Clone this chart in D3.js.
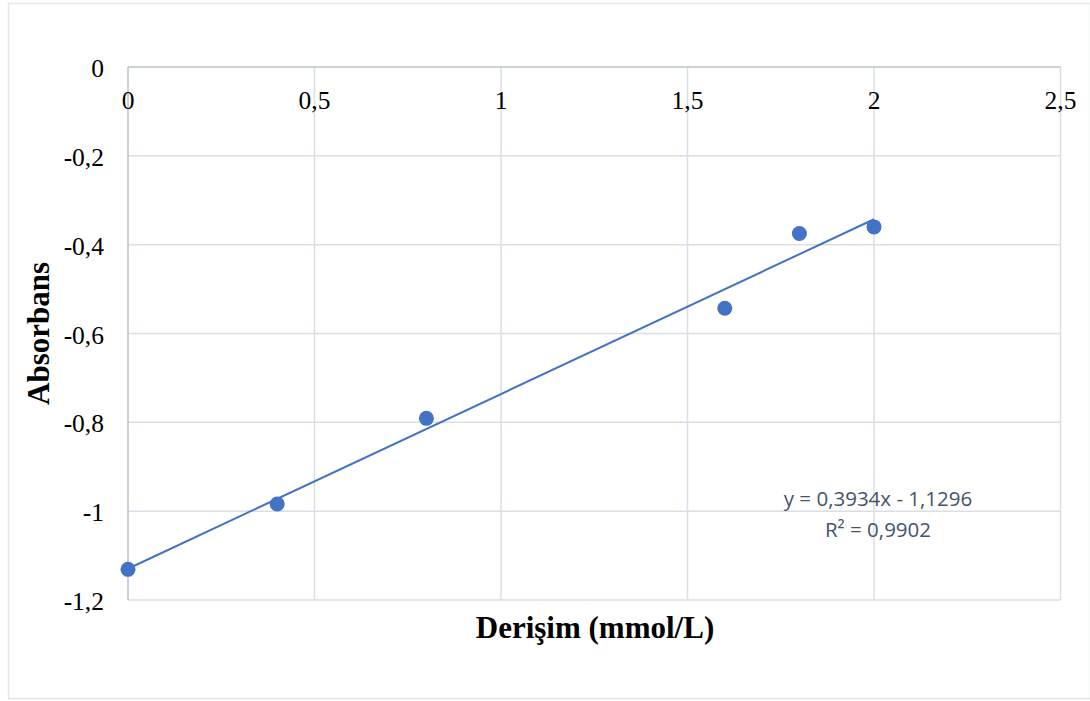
<!DOCTYPE html>
<html>
<head>
<meta charset="utf-8">
<script src="https://cdn.jsdelivr.net/npm/d3@7"></script>
<style>
  body { margin: 0; background: #fff; }
  svg { display: block; }
</style>
</head>
<body>
<svg id="chart" width="1090" height="701"></svg>
<script>
const width = 1090
const height = 701
const margin = { left: 128, right: 29.5, top: 67, bottom: 101 }

// data
const conc = [0, 0.4, 0.8, 1.6, 1.8, 2.0]
const absorb = [-1.131, -0.984, -0.791, -0.543, -0.375, -0.360]
const x_ticks = [0, 0.5, 1, 1.5, 2, 2.5]
const y_ticks = [0, -0.2, -0.4, -0.6, -0.8, -1, -1.2]
const slope = 0.3934
const intercept = -1.1296
const eq_lines = ["y = 0,3934x - 1,1296", "R² = 0,9902"]

const blue = "#4472c4"
const grid = "#d9dee7"
const serif = "Liberation Serif, Times New Roman, serif"
const fmt = d => String(d).replace(".", ",")

var svg = d3.select("#chart")

// outer chart border
svg.append("rect")
    .attr("x", 8.5).attr("y", 3.5)
    .attr("width", width - 8).attr("height", height - 6)
    .attr("fill", "none")
    .attr("stroke", "#e3e6ea")
    .attr("stroke-width", 1.5)

var xScale = d3.scaleLinear().domain([0, 2.5]).range([margin.left, width - margin.right])
var yScale = d3.scaleLinear().domain([-1.2, 0]).range([height - margin.bottom, margin.top])

// gridlines
svg.append("g")
    .selectAll("line")
    .data(x_ticks.slice(1))
    .join("line")
        .attr("x1", d => xScale(d)).attr("x2", d => xScale(d))
        .attr("y1", yScale(0)).attr("y2", yScale(-1.2))
        .attr("stroke", grid).attr("stroke-width", 1.5)

svg.append("g")
    .selectAll("line")
    .data(y_ticks.slice(1))
    .join("line")
        .attr("x1", xScale(0)).attr("x2", xScale(2.5))
        .attr("y1", d => yScale(d)).attr("y2", d => yScale(d))
        .attr("stroke", grid).attr("stroke-width", 1.5)

// axis lines (darker)
svg.append("line")
    .attr("x1", xScale(0)).attr("x2", xScale(2.5))
    .attr("y1", yScale(0)).attr("y2", yScale(0))
    .attr("stroke", "#b9c3d6").attr("stroke-width", 1.5)
svg.append("line")
    .attr("x1", xScale(0)).attr("x2", xScale(0))
    .attr("y1", yScale(0)).attr("y2", yScale(-1.2))
    .attr("stroke", "#b9c3d6").attr("stroke-width", 1.5)

// tick labels
svg.append("g")
    .selectAll("text")
    .data(x_ticks)
    .join("text")
        .attr("x", d => xScale(d))
        .attr("y", yScale(0) + 42)
        .attr("text-anchor", "middle")
        .attr("font-family", serif)
        .attr("font-size", 25.5)
        .attr("fill", "#000")
        .text(fmt)

svg.append("g")
    .selectAll("text")
    .data(y_ticks)
    .join("text")
        .attr("x", 104)
        .attr("y", d => yScale(d) + 10)
        .attr("text-anchor", "end")
        .attr("font-family", serif)
        .attr("font-size", 25.5)
        .attr("fill", "#000")
        .text(fmt)

// axis titles
svg.append("text")
    .attr("x", 595)
    .attr("y", 638)
    .attr("text-anchor", "middle")
    .attr("font-family", serif)
    .attr("font-weight", "bold")
    .attr("font-size", 31)
    .text("Derişim (mmol/L)")

svg.append("text")
    .attr("transform", "translate(49," + yScale(-0.6) + ") rotate(-90)")
    .attr("text-anchor", "middle")
    .attr("font-family", serif)
    .attr("font-weight", "bold")
    .attr("font-size", 31)
    .text("Absorbans")

// trendline
svg.append("line")
    .attr("x1", xScale(0)).attr("y1", yScale(intercept))
    .attr("x2", xScale(2)).attr("y2", yScale(slope * 2 + intercept))
    .attr("stroke", blue).attr("stroke-width", 2)

// points
svg.append("g")
    .selectAll("circle")
    .data(conc.map((c, i) => [c, absorb[i]]))
    .join("circle")
        .attr("cx", d => xScale(d[0]))
        .attr("cy", d => yScale(d[1]))
        .attr("r", 7.5)
        .attr("fill", blue)

// equation label
svg.append("g")
    .selectAll("text")
    .data(eq_lines)
    .join("text")
        .attr("x", 878)
        .attr("y", (d, i) => 506 + i * 31)
        .attr("text-anchor", "middle")
        .attr("font-family", "Open Sans, Liberation Sans, sans-serif")
        .attr("font-size", 20.5)
        .attr("fill", "#44546a")
        .text(d => d)
</script>
</body>
</html>
